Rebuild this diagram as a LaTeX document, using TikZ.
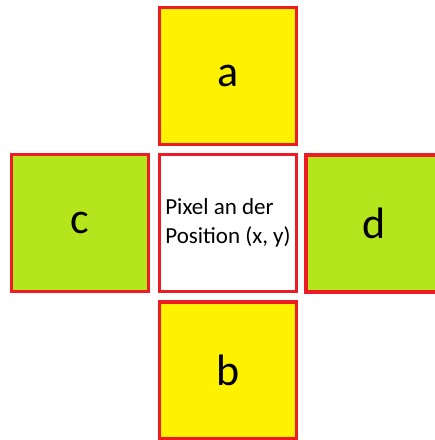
\documentclass[tikz,border=0pt]{standalone}
\usepackage{fontspec}
\setmainfont{Carlito}
\definecolor{paintred}{HTML}{ED1C24}
\definecolor{paintyellow}{HTML}{FFF200}
\definecolor{paintlime}{HTML}{B5E61D}
\begin{document}
\begin{tikzpicture}[x=1pt,y=-1pt,
  cell/.style={draw=paintred, line width=3.5pt, minimum size=137pt,
    inner sep=0pt, outer sep=0pt, anchor=center},
  letter/.style={cell, font=\fontsize{44}{44}\selectfont},
  yellowcell/.style={letter, fill=paintyellow},
  limecell/.style={letter, fill=paintlime},
  centercell/.style={cell, fill=white, align=left,
    font=\fontsize{23}{29}\selectfont}]
  \useasboundingbox (0,0) rectangle (435,440);
  \begin{scope}
    \clip (0,0) rectangle (435,440);
    \node[yellowcell] (a) at (228,76) {a};
    \node[centercell] (p) at (228,223) {Pixel an der\\Position (x, y)};
    \node[limecell] (c) at (80,223) {c};
    \node[limecell] (d) at (374.5,223.5) {d};
    \node[yellowcell] (b) at (228,370.5) {b};
  \end{scope}
\end{tikzpicture}
\end{document}
